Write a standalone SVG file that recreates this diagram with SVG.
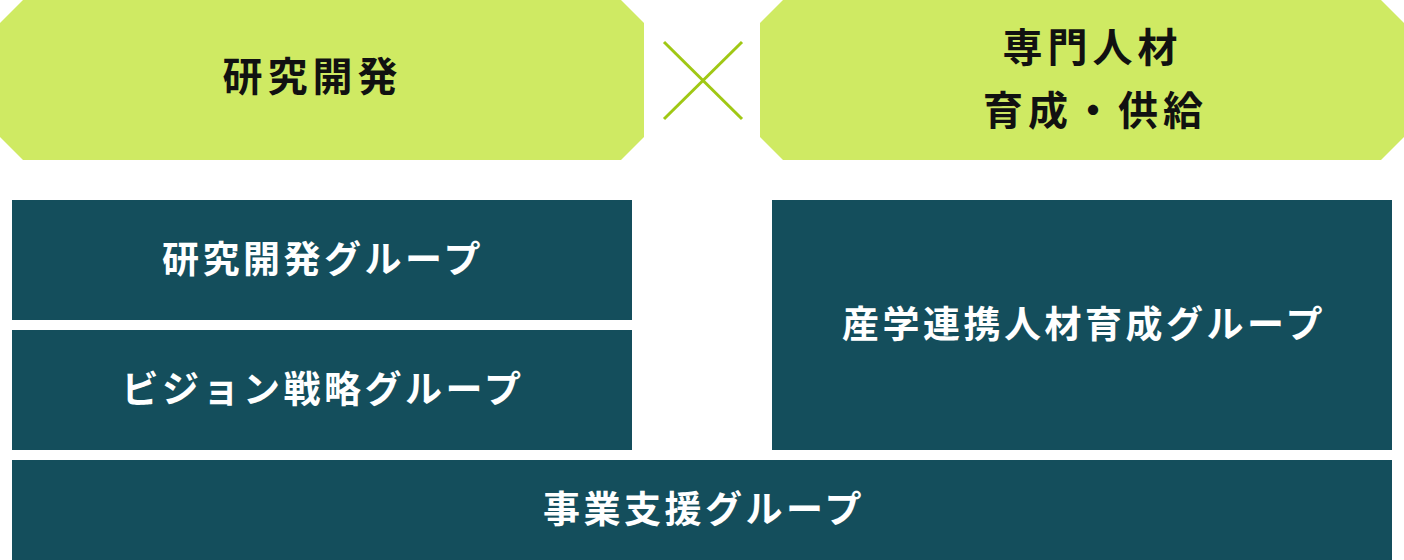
<svg xmlns="http://www.w3.org/2000/svg" width="1404" height="560" viewBox="0 0 1404 560">
<style>
.g{fill:#cfea63}
.d{fill:#144e5c}
.tb{font-family:"Noto Sans CJK JP","Noto Sans CJK SC",sans-serif;font-weight:700;font-size:40px;letter-spacing:5px;fill:#111;text-anchor:middle}
.tw{font-family:"Noto Sans CJK JP","Noto Sans CJK SC",sans-serif;font-weight:700;font-size:37px;letter-spacing:3.5px;fill:#fff;text-anchor:middle}
</style>
<rect width="1404" height="560" fill="#fff"/>
<g id="node-kenkyu">
<polygon class="g" points="23,0 621,0 644,23 644,137 621,160 23,160 0,137 0,23"/>
<text class="tb" x="312.5" y="91">研究開発</text>
</g>
<g id="node-senmon">
<polygon class="g" points="783,0 1381,0 1404,23 1404,137 1381,160 783,160 760,137 760,23"/>
<text class="tb" x="1092.5" y="62">専門人材</text>
<text class="tb" x="1095.5" y="125">育成・供給</text>
</g>
<g id="connectors">
<line x1="664" y1="42" x2="742" y2="119" stroke="#a0c814" stroke-width="3"/>
<line x1="742" y1="42" x2="664" y2="119" stroke="#a0c814" stroke-width="3"/>
</g>
<g id="node-kenkyu-group">
<rect class="d" x="12" y="200" width="620" height="120"/>
<text class="tw" x="323" y="273">研究開発グループ</text>
</g>
<g id="node-vision-group">
<rect class="d" x="12" y="330" width="620" height="120"/>
<text class="tw" x="323" y="403">ビジョン戦略グループ</text>
</g>
<g id="node-sangaku-group">
<rect class="d" x="772" y="200" width="620" height="250"/>
<text class="tw" x="1084" y="338">産学連携人材育成グループ</text>
</g>
<g id="node-jigyo-group">
<rect class="d" x="12" y="460" width="1380" height="100"/>
<text class="tw" x="704" y="523">事業支援グループ</text>
</g>
</svg>
